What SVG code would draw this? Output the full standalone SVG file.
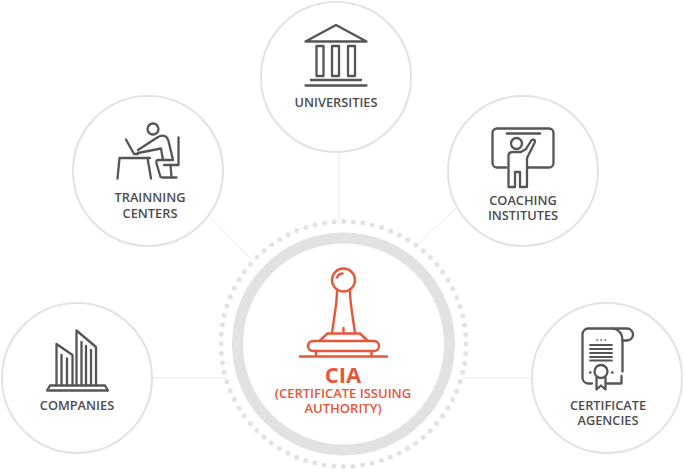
<svg xmlns="http://www.w3.org/2000/svg" width="685" height="472" viewBox="0 0 685 472">
<style>
.c{fill:#fff;stroke:#e2e2e2;stroke-width:2}
.i{fill:none;stroke:#555;stroke-width:2.3;stroke-linejoin:round;stroke-linecap:round}
.o{fill:none;stroke:#e8563a;stroke-width:2.4;stroke-linejoin:round;stroke-linecap:round}
.t{font-family:"Open Sans",sans-serif;font-weight:600;font-size:12.8px;fill:#4d4d4d;text-anchor:middle}
.r{font-family:"Open Sans",sans-serif;font-weight:600;fill:#e8563a;text-anchor:middle}
.l{stroke:#e8e8e8;stroke-width:1;fill:none}
</style>
<rect width="685" height="472" fill="#fff"/>
<g id="connectors">
<line class="l" x1="339" y1="152" x2="339" y2="221"/>
<line class="l" x1="211" y1="218" x2="252" y2="260"/>
<line class="l" x1="457" y1="207" x2="416" y2="246"/>
<line class="l" x1="152" y1="378" x2="226" y2="378"/>
<line class="l" x1="462" y1="378" x2="532" y2="378"/>
</g>
<g id="cia">
<circle cx="343.5" cy="344" r="122.500" fill="none" stroke="#e2e2e2" stroke-width="5" stroke-linecap="round" stroke-dasharray="0 9.621"/>
<circle cx="343.5" cy="344" r="106" fill="#fff" stroke="#e2e2e2" stroke-width="11"/>
<g class="o">
<circle cx="343.500" cy="280" r="11.500"/>
<path d="M337 277.500a6.500 6.500 0 0 1 5.500-4"/>
<path d="M337 291.500C337 303 334 318 332 333M350 291.500C350 303 353 318 355 333"/>
<path d="M343.500 328V333"/>
<path d="M320 340.500L327.500 333.500H360L367.500 340.500"/>
<rect x="308" y="341" width="71" height="10" rx="5"/>
<path d="M316 351V356M371.500 351V356"/>
</g>
<line x1="299" y1="356.500" x2="388" y2="356.500" stroke="#e8563a" stroke-width="2.400"/>
<text class="r" x="343" y="383" font-size="22" style="font-weight:700">CIA</text>
<text class="r" x="343" y="397.500" font-size="13">(CERTIFICATE ISSUING</text>
<text class="r" x="343" y="412.500" font-size="13">AUTHORITY)</text>
</g>
<g id="universities">
<circle class="c" cx="336" cy="77" r="75"/>
<g class="i">
<path d="M305.500 41.500L336 25L366.500 41.500Z"/>
<rect x="316.500" y="46" width="7" height="30"/>
<rect x="332" y="46" width="7" height="30"/>
<rect x="348" y="46" width="7" height="30"/>
<path d="M311 80H361M305.500 85.500H366.500"/>
</g>
<text class="t" x="336" y="107">UNIVERSITIES</text>
</g>
<g id="trainning-centers">
<circle class="c" cx="148" cy="171" r="75"/>
<g class="i">
<circle cx="153" cy="129" r="5.500"/>
<path d="M126 139.500L134 154H138"/>
<path d="M117.500 178.500L119.500 158H150M147.500 158L151 178.500"/>
<path d="M138 150L158 137C163 134 167 136 168.500 141L173 160H158C156 160 156 163 157 165L160.500 177"/>
<path d="M138 153L161 148.500L163 160"/>
<path d="M178.500 137.500V165H164"/>
<path d="M170.500 165L171.500 177.500M162 177.500H176.500"/>
</g>
<text class="t" x="150" y="202">TRAINNING</text>
<text class="t" x="150" y="218">CENTERS</text>
</g>
<g id="coaching-institutes">
<circle class="c" cx="523" cy="171" r="75"/>
<g class="i">
<path d="M506.500 167.500H497A4.500 4.500 0 0 1 492.500 163V133A4.500 4.500 0 0 1 497 128.500H549A4.500 4.500 0 0 1 553.500 133V163A4.500 4.500 0 0 1 549 167.500H528"/>
<path d="M507 133.500H540" stroke-width="2.500"/>
<circle cx="516.500" cy="143.500" r="5.500"/>
<path d="M521 152L526 149L531 141C533 138 536 140 534.500 143L527 158V187H520V172H515V187H508.500V156C508.500 153 511 152 513 152Z"/>
</g>
<text class="t" x="523" y="205">COACHING</text>
<text class="t" x="523" y="220">INSTITUTES</text>
</g>
<g id="companies">
<circle class="c" cx="77" cy="378" r="75"/>
<g class="i">
<path d="M56.500 385V344L72.500 355V385M76.500 385V330.500L96 347V385"/>
<path d="M61.500 385V355M67 385V358.500M81.500 385V342M86 385V346M91 385V350"/>
<path d="M50 385.500H105L108 390.500H47Z"/>
</g>
<text class="t" x="77" y="410">COMPANIES</text>
</g>
<g id="certificate-agencies">
<circle class="c" cx="607" cy="378" r="75"/>
<g class="i">
<path d="M592 383.500H588A6 6 0 0 1 582.500 378V334A6 6 0 0 1 588 328.500H627A6 6 0 0 1 627 340.500H622.500"/>
<path d="M613 328.500C620 330 622.500 334 622.500 340V371.500"/>
<path d="M607 383.500H621.500V376"/>
<path d="M590 345H612M590 349H612M590 353H612M590 357H612M590 360.500H612" stroke-width="1.800"/>
<path d="M597 340H597.500M601 340H601.500M605 340H605.500" stroke-width="1.600"/>
<circle cx="601" cy="371.500" r="6.500"/>
<path d="M596.500 378V389.500L601 385.500L605.500 389.500V378"/>
<path d="M590 372.500H590.500M612 372.500H612.500"/>
</g>
<text class="t" x="608" y="410">CERTIFICATE</text>
<text class="t" x="608" y="425">AGENCIES</text>
</g>
</svg>
